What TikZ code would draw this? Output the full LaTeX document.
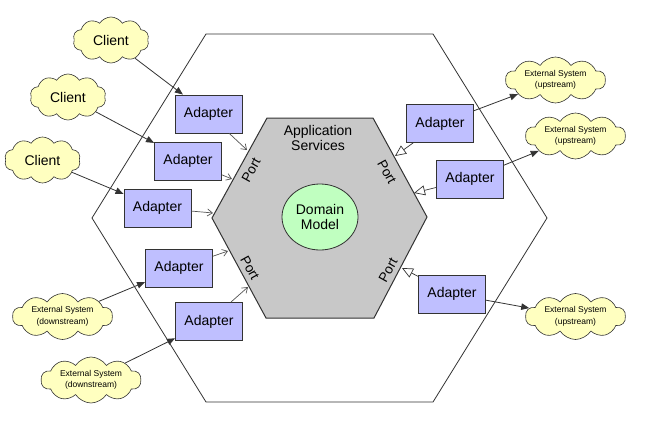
\documentclass[tikz,border=0pt]{standalone}
\usepackage{fontspec}
\setmainfont{Liberation Sans}
\usetikzlibrary{shapes.symbols,shapes.geometric,arrows.meta}
\definecolor{adapterfill}{HTML}{BFBFFF}
\definecolor{cloudfill}{HTML}{FFFFC0}
\definecolor{domainfill}{HTML}{C0FFC0}
\definecolor{appfill}{HTML}{C8C8C8}
\definecolor{edgecol}{HTML}{333333}
\definecolor{portarrowcol}{HTML}{555555}
\begin{document}
\begin{tikzpicture}[x=1pt,y=-1pt,
  adapter/.style={draw=edgecol, line width=0.9pt, fill=adapterfill, minimum width=67pt, minimum height=38pt, inner sep=0pt, font=\fontsize{14}{16}\selectfont},
  cloudy/.style={cloud, cloud puffs=10, cloud puff arc=115, cloud ignores aspect, draw=edgecol, line width=0.6pt, fill=cloudfill, inner sep=0pt, align=center},
  clientcloud/.style={cloudy, minimum width=76pt, minimum height=46pt, font=\fontsize{14}{16}\selectfont},
  extcloud/.style={cloudy, minimum width=100pt, minimum height=46pt, font=\fontsize{8.5}{11.5}\selectfont},
  fillarrow/.style={draw=edgecol, line width=0.8pt, -{Triangle[length=8pt,width=6.5pt]}},
  portarrow/.style={draw=portarrowcol, line width=0.7pt, -{Straight Barb[length=5pt,width=7pt]}},
  ifacearrow/.style={draw=edgecol, line width=0.7pt, -{Triangle[length=11pt,width=10pt,fill=white]}},
  porttext/.style={font=\fontsize{13.5}{15}\selectfont, inner sep=0pt},
  bigtext/.style={font=\fontsize{14}{15.5}\selectfont, align=center, inner sep=0pt}
]
\useasboundingbox (0,0) rectangle (645,423);
\fill[white] (0,0) rectangle (645,423);

% outer hexagon
\draw[edgecol, line width=0.8pt] (206,34) -- (433,34) -- (547,218) -- (433,402) -- (206,402) -- (92,218) -- cycle;
% inner hexagon
\draw[fill=appfill, draw=edgecol, line width=1pt] (267,118) -- (373,118) -- (427,217) -- (374,318) -- (266,318) -- (212,218) -- cycle;

\node[bigtext] (app) at (318,138) {Application\\Services};
\node[ellipse, draw=edgecol, line width=0.8pt, fill=domainfill, minimum width=76pt, minimum height=66pt, inner sep=0pt, bigtext] (dom) at (320,217) {Domain\\Model};

\node[porttext, rotate=61] (port1) at (251,170) {Port};
\node[porttext, rotate=-61] (port2) at (250,268) {Port};
\node[porttext, rotate=-61] (port3) at (387,172) {Port};
\node[porttext, rotate=61] (port4) at (388,270) {Port};

% adapters
\node[adapter] (A1) at (208.5,114) {Adapter};
\node[adapter] (A2) at (188,161) {Adapter};
\node[adapter] (A3) at (157.5,208) {Adapter};
\node[adapter] (A4) at (179,268) {Adapter};
\node[adapter] (A5) at (209,321.5) {Adapter};
\node[adapter] (R1) at (440,123.5) {Adapter};
\node[adapter] (R2) at (470,179) {Adapter};
\node[adapter] (R3) at (452,294) {Adapter};

% clouds
\node[clientcloud] (C1) at (111,40) {Client};
\node[clientcloud] (C2) at (68,97) {Client};
\node[clientcloud] (C3) at (42.5,160) {Client};
\node[extcloud] (D1) at (62.5,316.5) {External System\\(downstream)};
\node[extcloud] (D2) at (91,380) {External System\\(downstream)};
\node[extcloud] (U1) at (555.5,80) {External System\\(upstream)};
\node[extcloud] (U2) at (575.5,136) {External System\\(upstream)};
\node[extcloud] (U3) at (575.5,316.5) {External System\\(upstream)};

% port contact points
\coordinate (pa1) at (247,150);
\coordinate (pa2) at (232,179);
\coordinate (pa3) at (213,213);
\coordinate (pa4) at (228,251);
\coordinate (pa5) at (248,287);
\coordinate (pr1) at (395,156);
\coordinate (pr2) at (414,193);
\coordinate (pr3) at (402,268);

% connectors
\draw[fillarrow] (C1) -- (A1);
\draw[fillarrow] (C2) -- (A2);
\draw[fillarrow] (C3) -- (A3);
\draw[fillarrow] (D1) -- (A4);
\draw[fillarrow] (D2) -- (A5);
\draw[portarrow] (A1) -- (pa1);
\draw[portarrow] (A2) -- (pa2);
\draw[portarrow] (A3) -- (pa3);
\draw[portarrow] (A4) -- (pa4);
\draw[portarrow] (A5) -- (pa5);
\draw[ifacearrow] (R1) -- (pr1);
\draw[ifacearrow] (R2) -- (pr2);
\draw[ifacearrow] (R3) -- (pr3);
\draw[fillarrow] (R1) -- (U1);
\draw[fillarrow] (R2) -- (U2);
\draw[fillarrow] (R3) -- (U3);
\end{tikzpicture}
\end{document}
